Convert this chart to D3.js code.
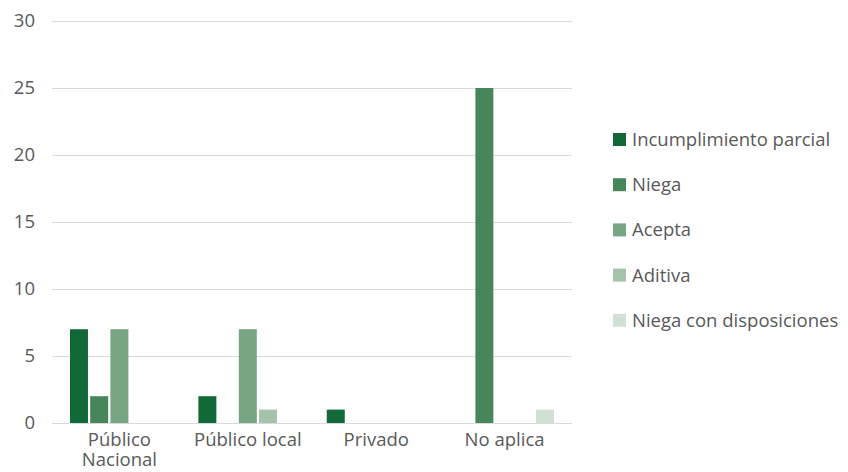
<!DOCTYPE html>
<html lang="es">
<head>
    <meta charset="UTF-8">
    <title>Chart</title>
    <script src="https://cdn.jsdelivr.net/npm/d3@7"></script>
    <style>
        body { margin: 0; background: #fff; }
        text { font-family: "Open Sans", "Noto Sans", sans-serif; fill: #595959; }
    </style>
</head>
<body>
    <div id="chart"></div>
    <script>
        // Data
        var categories = ["Público Nacional", "Público local", "Privado", "No aplica"];
        var seriesNames = ["Incumplimiento parcial", "Niega", "Acepta", "Aditiva", "Niega con disposiciones"];
        var incumplimiento = [7, 2, 1, 0];
        var niega = [2, 0, 0, 25];
        var acepta = [7, 7, 0, 0];
        var aditiva = [0, 1, 0, 0];
        var niegaDisp = [0, 0, 0, 1];
        var seriesValues = [incumplimiento, niega, acepta, aditiva, niegaDisp];
        var colors = ["#116937", "#47855a", "#78a583", "#a5c3ab", "#d0e0d4"];
        var yTicks = [0, 5, 10, 15, 20, 25, 30];

        var width = 848, height = 472;
        var margin = { left: 52, right: 276, top: 21, bottom: 49 };
        var fontSize = "18.5px";

        var svg = d3.select("#chart").append("svg")
            .attr("width", width)
            .attr("height", height);

        var x0 = d3.scaleBand()
            .domain(categories)
            .range([margin.left, width - margin.right])
            .paddingInner(0.23)
            .paddingOuter(0.14);

        var x1 = d3.scaleBand()
            .domain(seriesNames)
            .range([0, x0.bandwidth()])
            .paddingInner(0.11);

        var y = d3.scaleLinear()
            .domain([0, 30])
            .range([height - margin.bottom, margin.top]);

        // Grid lines
        svg.append("g")
            .selectAll("line")
            .data(yTicks)
            .enter().append("line")
            .attr("x1", margin.left)
            .attr("x2", width - margin.right)
            .attr("y1", function(d) { return Math.round(y(d)) + 0.5; })
            .attr("y2", function(d) { return Math.round(y(d)) + 0.5; })
            .attr("stroke", "#d9d9d9")
            .attr("stroke-width", 1);

        // Y axis labels
        var yAxis = d3.axisLeft(y).tickValues(yTicks).tickSize(0).tickPadding(17);
        svg.append("g")
            .attr("transform", "translate(" + margin.left + ",0)")
            .call(yAxis)
            .call(function(g) { g.select(".domain").remove(); })
            .selectAll("text")
            .style("font-size", fontSize)
            .attr("fill", "#595959");

        // Bars
        var rows = [];
        categories.forEach(function(c, i) {
            seriesNames.forEach(function(s, j) {
                rows.push({ cat: c, series: s, value: seriesValues[j][i], color: colors[j] });
            });
        });

        svg.append("g")
            .selectAll("rect")
            .data(rows.filter(function(d) { return d.value > 0; }))
            .enter().append("rect")
            .attr("x", function(d) { return x0(d.cat) + x1(d.series); })
            .attr("width", x1.bandwidth())
            .attr("y", function(d) { return y(d.value); })
            .attr("height", function(d) { return y(0) - y(d.value); })
            .attr("fill", function(d) { return d.color; });

        // X axis labels
        var xAxis = d3.axisBottom(x0).tickSize(0).tickPadding(10);
        svg.append("g")
            .attr("transform", "translate(0," + y(0) + ")")
            .call(xAxis)
            .call(function(g) { g.select(".domain").remove(); })
            .selectAll("text")
            .style("font-size", fontSize)
            .attr("fill", "#595959")
            .call(wrap, x0.step() - 4);

        function wrap(texts, maxWidth) {
            texts.each(function() {
                var text = d3.select(this);
                var words = text.text().split(/\s+/);
                var yAttr = text.attr("y");
                var dy = parseFloat(text.attr("dy")) || 0;
                text.text(null);
                var line = [];
                var lineNo = 0;
                var tspan = text.append("tspan").attr("x", 0).attr("y", yAttr).attr("dy", dy + "em");
                words.forEach(function(w) {
                    line.push(w);
                    tspan.text(line.join(" "));
                    if (tspan.node().getComputedTextLength() > maxWidth && line.length > 1) {
                        line.pop();
                        tspan.text(line.join(" "));
                        line = [w];
                        lineNo++;
                        tspan = text.append("tspan").attr("x", 0).attr("y", yAttr)
                            .attr("dy", (lineNo * 1.1 + dy) + "em").text(w);
                    }
                });
            });
        }

        // Legend
        var legend = svg.append("g")
            .attr("transform", "translate(613,139.5)");

        var item = legend.selectAll("g")
            .data(seriesNames)
            .enter().append("g")
            .attr("transform", function(d, i) { return "translate(0," + (i * 45.2) + ")"; });

        item.append("rect")
            .attr("x", 0)
            .attr("y", -6.5)
            .attr("width", 13)
            .attr("height", 13)
            .attr("fill", function(d, i) { return colors[i]; });

        item.append("text")
            .attr("x", 19)
            .attr("y", 0)
            .attr("dy", "0.35em")
            .style("font-size", fontSize)
            .text(function(d) { return d; });
    </script>
</body>
</html>
